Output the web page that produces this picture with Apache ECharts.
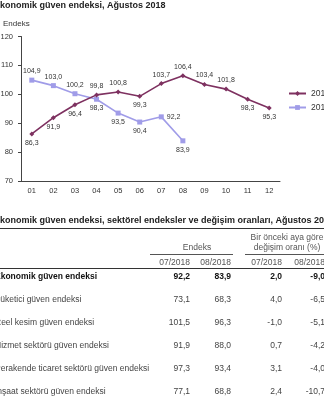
<!DOCTYPE html>
<html><head><meta charset="utf-8">
<script src="https://cdn.jsdelivr.net/npm/echarts@6/dist/echarts.min.js"></script>
<style>html,body{margin:0;padding:0;background:#fff}#c{width:324px;height:400px}</style>
</head><body><div id="c"></div>
<script>
const months = ['01','02','03','04','05','06','07','08','09','10','11','12'];
const yTicks = [70, 80, 90, 100, 110, 120];
const s2017 = [86.3, 91.9, 96.4, 99.8, 100.8, 99.3, 103.7, 106.4, 103.4, 101.8, 98.3, 95.3];
const s2018 = [104.9, 103.0, 100.2, 98.3, 93.5, 90.4, 92.2, 83.9];
const seriesNames = ['2017', '2018'];

const rowNames = ['Ekonomik güven endeksi','Tüketici güven endeksi','Reel kesim güven endeksi','Hizmet sektörü güven endeksi','Perakende ticaret sektörü güven endeksi','İnşaat sektörü güven endeksi'];
const idx07 = [92.2, 73.1, 101.5, 91.9, 97.3, 77.1];
const idx08 = [83.9, 68.3, 96.3, 88.0, 93.4, 68.8];
const chg07 = [2.0, 4.0, -1.0, 0.7, 3.1, 2.4];
const chg08 = [-9.0, -6.5, -5.1, -4.2, -4.0, -10.7];
const colHeads = ['07/2018', '08/2018', '07/2018', '08/2018'];

// label placement (style, not data)
const lab2017 = ['bottom','bottom','bottom','top','top','bottom','top','top','top','top','bottom','bottom'];
const lab2018 = ['top','top','top','bottom','bottom','bottom','right','bottom'];

const fmt = v => v.toFixed(1).replace('.', ',');
const FF = '"Liberation Sans", Arial, sans-serif';
const C17 = '#7e3160', C18 = '#a09ce8';

function mk(vals, pos) {
  return vals.map((v, i) => ({ value: v, label: { position: pos[i] } }));
}

const g = [];
function txt(t, x, y, opt) {
  opt = opt || {};
  g.push({ type: 'text', silent: true, style: {
    text: t, x: x, y: y,
    font: (opt.bold ? 'bold ' : '') + (opt.size || 8.5) + 'px ' + FF,
    fill: opt.color || '#333',
    align: opt.align || 'left', textAlign: opt.align || 'left',
    verticalAlign: 'middle', textVerticalAlign: 'middle'
  }});
}
function ln(x1, y1, x2, y2, c, w) {
  g.push({ type: 'line', silent: true, shape: { x1, y1, x2, y2 }, style: { stroke: c || '#333', lineWidth: w || 1 } });
}

txt('Ekonomik güven endeksi, Ağustos 2018', -6, 6, { bold: true, size: 9, color: '#222' });
txt('Endeks', 3, 24, { size: 8, color: '#333' });

// table
txt('Ekonomik güven endeksi, sektörel endeksler ve değişim oranları, Ağustos 2018', -6, 221, { bold: true, size: 9, color: '#222' });
ln(0, 228.5, 324, 228.5, '#333', 1);
txt('Endeks', 197, 248, { align: 'center', color: '#555' });
ln(150, 254.5, 233, 254.5, '#555', 1);
txt('Bir önceki aya göre', 287, 238, { align: 'center', color: '#555' });
txt('değişim oranı (%)', 287, 248, { align: 'center', color: '#555' });
ln(245, 254.5, 324, 254.5, '#555', 1);
const colR = [190, 231, 282, 325];
colHeads.forEach((h, i) => txt(h, colR[i], 263, { align: 'right', color: '#555' }));
ln(0, 268.5, 324, 268.5, '#333', 1);
const rowY = [277, 300, 322.5, 345.5, 369, 392];
rowNames.forEach((n, i) => {
  const b = i === 0;
  const col = b ? '#111' : '#444';
  txt(n, -5, rowY[i], { bold: b, color: col });
  txt(fmt(idx07[i]), colR[0], rowY[i], { bold: b, color: col, align: 'right' });
  txt(fmt(idx08[i]), colR[1], rowY[i], { bold: b, color: col, align: 'right' });
  txt(fmt(chg07[i]), colR[2], rowY[i], { bold: b, color: col, align: 'right' });
  txt(fmt(chg08[i]), colR[3], rowY[i], { bold: b, color: col, align: 'right' });
});

const chart = echarts.init(document.getElementById('c'), null, { renderer: 'canvas' });
chart.setOption({
  animation: false,
  textStyle: { fontFamily: FF },
  grid: { left: 21, right: 44, top: 36.5, bottom: 219, outerBoundsMode: 'none', containLabel: false },
  legend: {
    orient: 'vertical', left: 288, top: 89, padding: 0, itemWidth: 17, itemHeight: 6, itemGap: 5,
    textStyle: { fontSize: 8.5, color: '#333', fontFamily: FF },
    data: seriesNames
  },
  xAxis: {
    type: 'category', data: months, boundaryGap: true,
    axisLine: { lineStyle: { color: '#444', width: 1 } },
    axisTick: { alignWithLabel: true, length: 3, lineStyle: { color: '#444' } },
    axisLabel: { fontSize: 7.5, color: '#333', margin: 6, fontFamily: FF }
  },
  yAxis: {
    type: 'value', min: yTicks[0], max: yTicks[yTicks.length - 1], interval: 10,
    splitLine: { show: false },
    axisLine: { show: true, lineStyle: { color: '#444', width: 1 } },
    axisTick: { show: true, length: 3, lineStyle: { color: '#444' } },
    axisLabel: { fontSize: 7.5, color: '#333', margin: 8, fontFamily: FF }
  },
  series: [
    {
      name: seriesNames[0], type: 'line', data: mk(s2017, lab2017),
      symbol: 'diamond', symbolSize: 5, color: C17,
      lineStyle: { color: C17, width: 1.6 }, itemStyle: { color: C17 },
      label: { show: true, formatter: p => fmt(p.value), fontSize: 7, color: '#333', distance: 3, fontFamily: FF },
      z: 3
    },
    {
      name: seriesNames[1], type: 'line', data: mk(s2018, lab2018),
      symbol: 'rect', symbolSize: 5, color: C18,
      lineStyle: { color: C18, width: 1.6 }, itemStyle: { color: C18 },
      label: { show: true, formatter: p => fmt(p.value), fontSize: 7, color: '#333', distance: 3, fontFamily: FF },
      z: 2
    }
  ],
  graphic: { elements: g }
});
</script></body></html>
